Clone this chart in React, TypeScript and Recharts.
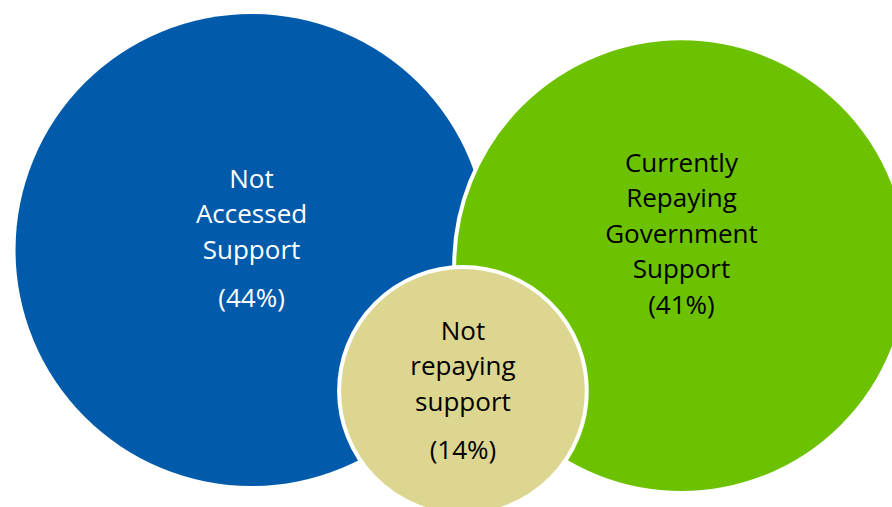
import React from "react";
import { ScatterChart, Scatter, XAxis, YAxis, ZAxis } from "recharts";

// each bubble: share of businesses, placed on a 0-100 layout grid
const categories = [
  "Not Accessed Support",
  "Currently Repaying Government Support",
  "Not repaying support",
];
const labelLines = [
  ["Not", "Accessed", "Support"],
  ["Currently", "Repaying", "Government", "Support"],
  ["Not", "repaying", "support"],
];
const shares = [44, 41, 14];
const posX = [28.2, 76.4, 51.9];
const posY = [50.7, 47.6, 22.9];

const fills = ["#025AAA", "#6CC200", "#DCD691"];
const textColors = ["#FFFFFF", "#000000", "#000000"];
const strokes = ["none", "#FFFFFF", "#FFFFFF"];
const blockTop = [-72, -104, -61];
const pctGap = [13, 0, 13];
const lineStep = 35.5;

const data = categories.map((name, i) => ({
  name,
  lines: labelLines[i],
  share: shares[i],
  x: posX[i],
  y: posY[i],
}));

function Bubble(props: any) {
  const { cx, cy, width, index, payload } = props;
  const r = width / 2;
  const lines: string[] = payload.lines;
  const y0 = cy + blockTop[index];
  const pctY = y0 + lines.length * lineStep + pctGap[index];
  return (
    <g>
      <circle
        cx={cx}
        cy={cy}
        r={r}
        fill={fills[index]}
        stroke={strokes[index]}
        strokeWidth={4}
      />
      <text
        textAnchor="middle"
        fill={textColors[index]}
        fontFamily="'Open Sans', 'Noto Sans', sans-serif"
        fontSize={26}
      >
        {lines.map((l, k) => (
          <tspan key={k} x={cx} y={y0 + k * lineStep} dominantBaseline="central">
            {l}
          </tspan>
        ))}
        <tspan x={cx} y={pctY} dominantBaseline="central">
          {`(${payload.share}%)`}
        </tspan>
      </text>
    </g>
  );
}

export default function App() {
  return (
    <div style={{ position: "absolute", left: 0, top: 0, background: "#fff" }}>
      <ScatterChart
        width={892}
        height={507}
        margin={{ top: 0, right: 0, bottom: 0, left: 0 }}
      >
        <XAxis type="number" dataKey="x" domain={[0, 100]} hide />
        <YAxis type="number" dataKey="y" domain={[0, 100]} hide />
        <ZAxis type="number" dataKey="share" domain={[2.6, 44]} range={[0, 175000]} />
        <Scatter data={data} shape={Bubble} isAnimationActive={false} />
      </ScatterChart>
    </div>
  );
}
